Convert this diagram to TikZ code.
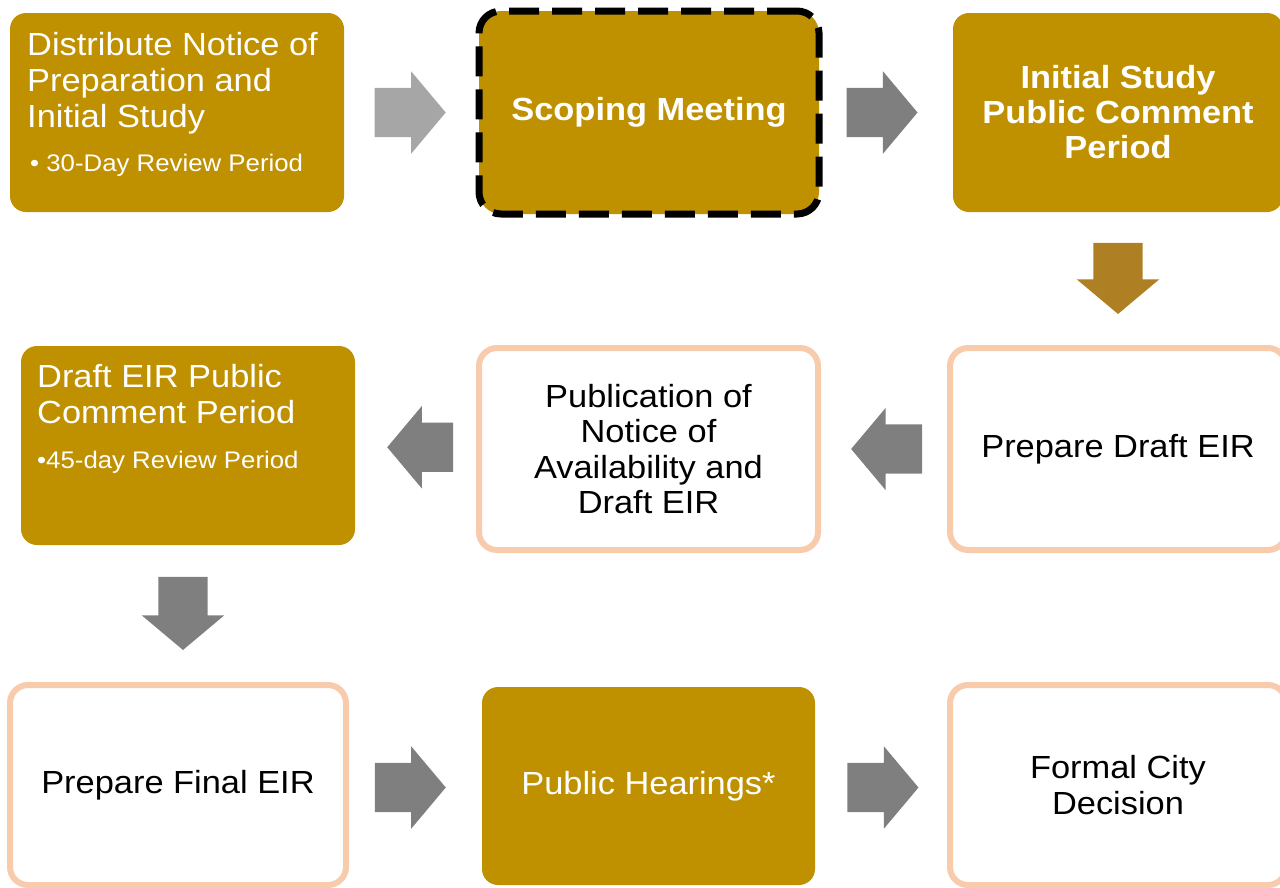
\documentclass[tikz,border=0pt]{standalone}
\usepackage{xcolor}
\usepackage{fontspec}
\setmainfont[FakeStretch=1.075]{Liberation Sans}
\usepackage{tikz}
\usetikzlibrary{shapes.arrows,calc}

\definecolor{gold}{RGB}{191,144,0}
\definecolor{peach}{RGB}{248,203,173}
\definecolor{lgrey}{RGB}{166,166,166}
\definecolor{dgrey}{RGB}{127,127,127}
\definecolor{brownish}{RGB}{175,127,36}

\begin{document}
\begin{tikzpicture}[x=1pt,y=-1pt,
    big/.style={font=\fontsize{32}{35.5}\selectfont},
    small/.style={font=\fontsize{24}{28}\selectfont},
    goldbox/.style={draw=none,fill=gold,rounded corners=16pt,text=white,align=center,big},
    whitebox/.style={draw=peach,line width=6pt,fill=white,rounded corners=18pt,align=center,big},
    blockarrow/.style={single arrow,draw=none,fill=dgrey,inner xsep=0pt,inner ysep=24.5pt,
        minimum height=71pt,single arrow head extend=16.5pt,single arrow tip angle=100}]
             \useasboundingbox (0,0) rectangle (1280,887);
             \clip (0,0) rectangle (1280,887);

             % top row
             \node[goldbox,minimum width=334pt,minimum height=199pt] (notice) at (177,112.5) {};
             \node[anchor=north west,inner sep=0pt,text=white,align=left,font=\fontsize{32}{36}\selectfont] (noticetxt) at (27,32.5) {Distribute Notice of\\Preparation and\\Initial Study};
             \node[anchor=north west,inner sep=0pt,text=white,small] (noticebul) at (30,153.5) {\textbullet\ 30-Day Review Period};
             \node[goldbox,draw=black,line width=7pt,dash pattern=on 30pt off 13pt,rounded corners=22pt,
                   minimum width=340pt,minimum height=203pt,font=\bfseries\fontsize{32}{35.5}\selectfont] (scoping) at (649,112.5) {Scoping Meeting};
             \node[goldbox,minimum width=330pt,minimum height=199pt,font=\bfseries\fontsize{32}{35}\selectfont] (initial) at (1118,112.5) {Initial Study\\Public Comment\\Period};

             % middle row
             \node[goldbox,minimum width=334pt,minimum height=199pt] (draft) at (188,445.5) {};
             \node[anchor=north west,inner sep=0pt,text=white,align=left,big] (drafttxt) at (37,364.5) {Draft EIR Public\\Comment Period};
             \node[anchor=north west,inner sep=0pt,text=white,small] (draftbul) at (37,451) {\textbullet 45-day Review Period};
             \node[whitebox,minimum width=339pt,minimum height=202pt] (publication) at (648.5,449) {Publication of\\Notice of\\Availability and\\Draft EIR};
             \node[whitebox,minimum width=336pt,minimum height=202pt] (prepdraft) at (1118,449) {Prepare Draft EIR};

             % bottom row
             \node[whitebox,minimum width=336pt,minimum height=200pt] (finaleir) at (178,785) {Prepare Final EIR};
             \node[goldbox,minimum width=333pt,minimum height=198pt,yshift=-1pt] (hearings) at (648.5,785) {Public Hearings*};
             \node[whitebox,minimum width=336pt,minimum height=200pt] (decision) at (1118,785) {Formal City\\Decision};

             % arrows
             \node[blockarrow,fill=lgrey,xshift=-10pt] (a1) at ($(notice.east)!.5!(scoping.west)$) {};
             \node[blockarrow,xshift=-16pt] (a2) at ($(scoping.east)!.5!(initial.west)$) {};
             \node[blockarrow,fill=brownish,rotate=-90,xshift=-10.5pt] (a3) at ($(initial.south)!.5!(prepdraft.north)$) {};
             \node[blockarrow,rotate=180,xshift=-13pt] (a4) at ($(prepdraft.west)!.5!(publication.east)$) {};
             \node[blockarrow,rotate=180,minimum height=66pt,xshift=-15pt] (a5) at ($(publication.west)!.5!(draft.east)$) {};
             \node[blockarrow,rotate=-90,minimum height=73pt,xshift=-10.5pt] (a6) at ($(draft.south)!.5!(finaleir.north)$) {};
             \node[blockarrow,xshift=-15.5pt,yshift=-2pt] (a7) at ($(finaleir.east)!.5!(hearings.west)$) {};
             \node[blockarrow,xshift=-8.5pt,yshift=-2pt] (a8) at ($(hearings.east)!.5!(decision.west)$) {};
             \end{tikzpicture}
\end{document}
